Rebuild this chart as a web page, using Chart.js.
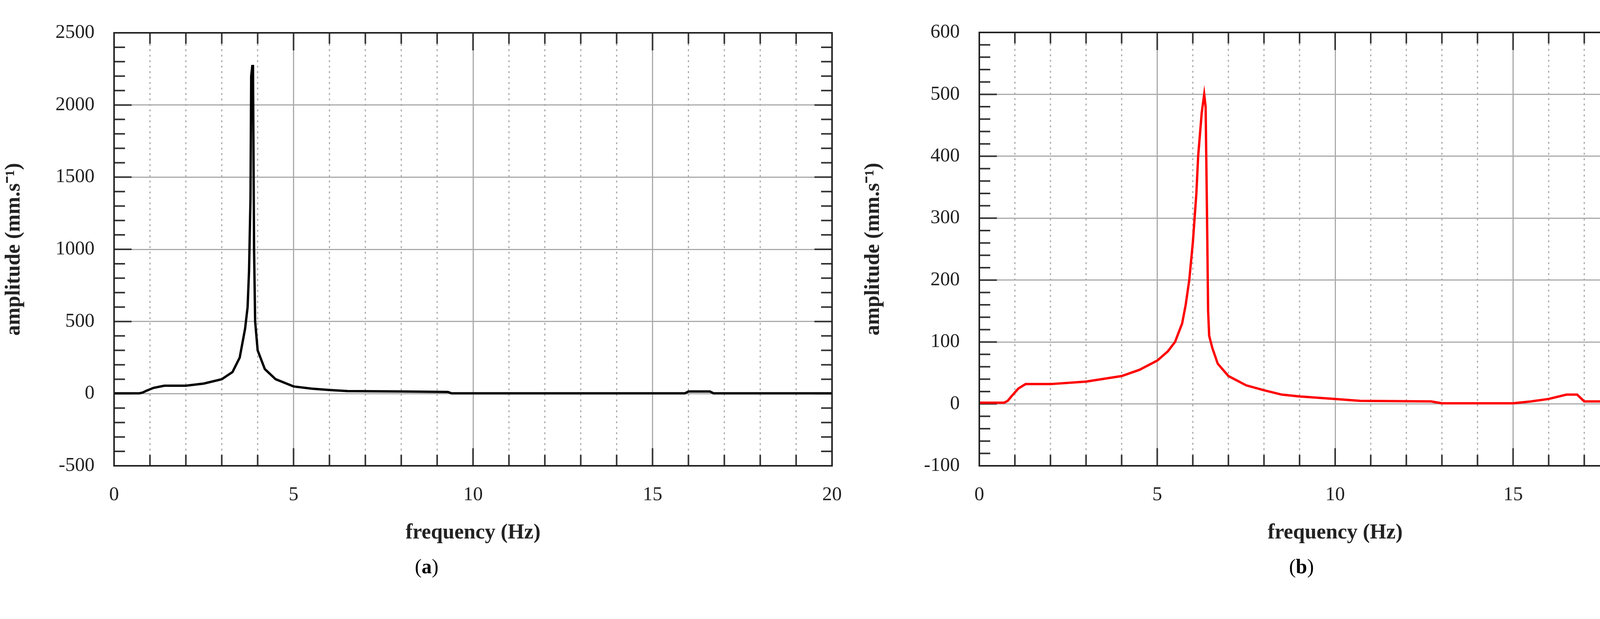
<!DOCTYPE html>
<html><head><meta charset="utf-8">
<script src="https://cdn.jsdelivr.net/npm/chart.js@4"></script>
<style>
html,body{margin:0;padding:0;background:#fff;width:4399px;height:1584px;overflow:hidden}
canvas{position:absolute;top:0}
.lab{position:absolute;top:1420px;font:52px "Liberation Serif",serif;color:#000}
</style></head><body>
<canvas id="a" width="2200" height="1400" style="left:0;width:2200px;height:1400px"></canvas>
<canvas id="b" width="2199" height="1400" style="left:2200px;width:2199px;height:1400px"></canvas>
<div class="lab" style="left:1062px">(<b>a</b>)</div>
<div class="lab" style="left:3300px">(<b>b</b>)</div>
<script>
const freqA=[0,0.7,0.8,0.9,1.1,1.4,2.0,2.5,3.0,3.3,3.5,3.65,3.72,3.76,3.8,3.82,3.85,3.87,3.9,3.93,4.0,4.2,4.5,5.0,5.5,6.0,6.5,8.0,9.3,9.4,15.9,16.0,16.6,16.7,20];
const ampA=[2,2,8,20,40,55,55,70,100,150,250,450,600,850,1350,2200,2270,2270,1000,500,300,170,100,50,35,25,18,15,12,2,2,15,15,2,2];
const freqB=[0,0.7,0.8,0.9,1.1,1.3,2,3,4,4.5,5,5.3,5.5,5.7,5.8,5.9,6.0,6.1,6.15,6.25,6.32,6.36,6.4,6.43,6.46,6.55,6.7,7,7.5,8,8.5,9,10,10.7,12.7,13,15,15.5,16,16.5,16.8,17,17.8,18,20];
const ampB=[2,2,5,12,25,32,32,36,45,55,70,85,100,130,160,200,260,340,400,470,500,480,300,150,110,90,65,45,30,22,15,12,8,5,4,1,1,4,8,15,15,4,4,1,1];
const xTicks=[0,5,10,15,20];
const yTicksA=[-500,0,500,1000,1500,2000,2500];
const yTicksB=[-100,0,100,200,300,400,500,600];

const F='"Liberation Serif", serif';
const minorPlugin={id:'minor',
 beforeDatasetsDraw(ch,args,o){
  const c=ch.ctx,x=ch.scales.x,y=ch.scales.y,a=ch.chartArea;
  c.save();
  c.strokeStyle='#aaa';c.lineWidth=3;c.setLineDash([5,9]);
  for(let v=1;v<20;v++){if(v%5===0)continue;const p=x.getPixelForValue(v);c.beginPath();c.moveTo(p,a.top);c.lineTo(p,a.bottom);c.stroke();}
  c.setLineDash([]);c.strokeStyle='#333';c.lineWidth=4;
  for(let v=0;v<=20;v++){const p=x.getPixelForValue(v),L=v%5===0?45:28;
   c.beginPath();c.moveTo(p,a.top);c.lineTo(p,a.top+L);c.moveTo(p,a.bottom);c.lineTo(p,a.bottom-L);c.stroke();}
  for(let v=o.ymin;v<=o.ymax+1e-9;v+=o.minor){const p=y.getPixelForValue(v),L=Math.abs(v%o.major)<1e-9?45:28;
   c.beginPath();c.moveTo(a.left,p);c.lineTo(a.left+L,p);c.moveTo(a.right,p);c.lineTo(a.right-L,p);c.stroke();}
  c.restore();}};

function make(id,fx,fy,color,ymin,ymax,major,minor,yw,top,right,yt){
 new Chart(document.getElementById(id),{type:'line',
  data:{datasets:[{data:fx.map((v,i)=>({x:v,y:fy[i]})),borderColor:color,borderWidth:6,pointRadius:0,tension:0}]},
  options:{responsive:false,devicePixelRatio:1,animation:false,
   layout:{padding:{top:top,right:right,left:0,bottom:0}},
   plugins:{legend:{display:false},tooltip:{enabled:false},minor:{ymin,ymax,major,minor}},
   scales:{
    x:{type:'linear',min:0,max:20,afterBuildTicks:s=>{s.ticks=xTicks.map(v=>({value:v}));},
     grid:{color:'#aaa',lineWidth:3,drawTicks:false},border:{color:'#222',width:4},
     ticks:{padding:45,color:'#222',font:{family:F,size:50},callback:v=>String(v)},
     title:{display:true,text:'frequency (Hz)',color:'#222',font:{family:F,size:54,weight:'bold'},padding:{top:20}},
     afterFit:s=>{s.height=1400-1192;}},
    y:{type:'linear',min:ymin,max:ymax,afterBuildTicks:s=>{s.ticks=yt.map(v=>({value:v}));},
     grid:{color:'#aaa',lineWidth:3,drawTicks:false},border:{color:'#222',width:4},
     ticks:{padding:50,color:'#222',font:{family:F,size:50},callback:v=>String(v)},
     title:{display:true,text:'amplitude (mm.s⁻¹)',color:'#222',font:{family:F,size:54,weight:'bold'},padding:{bottom:10}},
     afterFit:s=>{s.width=yw;}}}},
  plugins:[minorPlugin,{id:'frame',afterDraw(ch){const c=ch.ctx,a=ch.chartArea;c.save();c.strokeStyle='#222';c.lineWidth=4;c.strokeRect(a.left,a.top,a.right-a.left,a.bottom-a.top);c.restore();}}]});
}
make('a',freqA,ampA,'#000',-500,2500,500,100,292,84,60,yTicksA);
make('b',freqB,ampB,'#f00',-100,600,100,20,307,83,59,yTicksB);
</script></body></html>
